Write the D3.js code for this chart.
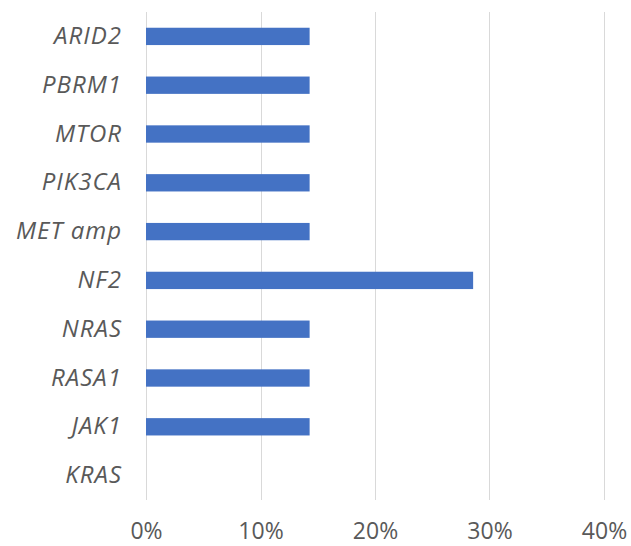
<!DOCTYPE html>
<html>
<head>
<meta charset="utf-8">
<script src="https://cdn.jsdelivr.net/npm/d3@7"></script>
<style>
  html, body { margin: 0; padding: 0; background: #fff; }
  svg { display: block; }
</style>
</head>
<body>
<svg id="chart" width="631" height="546"></svg>
<script>
// Gene alteration frequencies, listed top to bottom
const genes = ["ARID2", "PBRM1", "MTOR", "PIK3CA", "MET amp", "NF2", "NRAS", "RASA1", "JAK1", "KRAS"];
const frequency = [0.1429, 0.1429, 0.1429, 0.1429, 0.1429, 0.2857, 0.1429, 0.1429, 0.1429, 0];
const xTicks = [0, 0.1, 0.2, 0.3, 0.4];

const svg = d3.select("#chart");
const plot = { left: 146, right: 604, top: 12, bottom: 500 };

const x = d3.scaleLinear().domain([0, 0.4]).range([plot.left, plot.right]);
const y = d3.scaleBand().domain(genes).range([plot.top, plot.bottom]).padding(0);
const barH = y.bandwidth() * 0.355;

// vertical gridlines
svg.append("g")
  .selectAll("line")
  .data(xTicks)
  .join("line")
  .attr("x1", d => Math.round(x(d)) + 0.5)
  .attr("x2", d => Math.round(x(d)) + 0.5)
  .attr("y1", plot.top)
  .attr("y2", plot.bottom)
  .attr("stroke", "#d9d9d9")
  .attr("stroke-width", 1);

// bars
svg.append("g")
  .selectAll("rect")
  .data(genes.map((g, i) => ({ gene: g, value: frequency[i] })))
  .join("rect")
  .attr("x", x(0))
  .attr("y", d => y(d.gene) + (y.bandwidth() - barH) / 2)
  .attr("width", d => x(d.value) - x(0))
  .attr("height", barH)
  .attr("fill", "#4472c4");

// x axis tick labels
const xAxis = d3.axisBottom(x)
  .tickValues(xTicks)
  .tickFormat(d3.format(".0%"))
  .tickSize(0)
  .tickPadding(0);

const gx = svg.append("g")
  .attr("transform", `translate(0,${plot.bottom + 23})`)
  .call(xAxis);
gx.select(".domain").remove();
gx.selectAll("text")
  .attr("font-family", "'Open Sans', sans-serif")
  .attr("font-size", 23)
  .attr("fill", "#595959");

// y axis category labels
const yAxis = d3.axisLeft(y).tickSize(0).tickPadding(24);
const gy = svg.append("g")
  .attr("transform", `translate(${plot.left},0)`)
  .call(yAxis);
gy.select(".domain").remove();
gy.selectAll("text")
  .attr("font-family", "'Open Sans', sans-serif")
  .attr("font-style", "italic")
  .attr("font-size", 24)
  .attr("letter-spacing", 1)
  .attr("fill", "#595959");
</script>
</body>
</html>
